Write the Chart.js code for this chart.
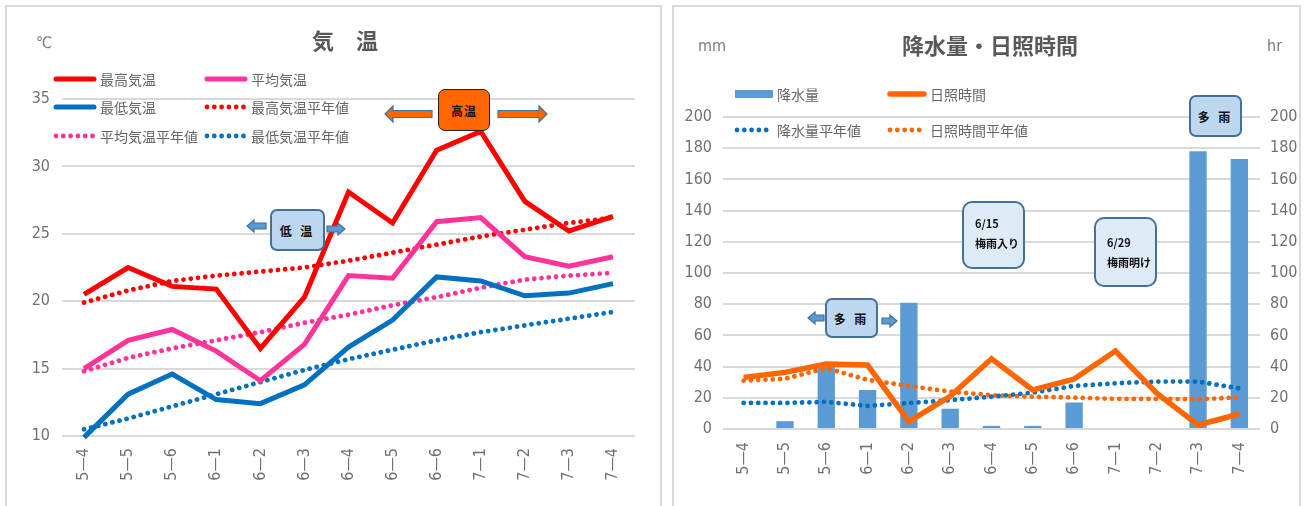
<!DOCTYPE html>
<html lang="ja">
<head>
<meta charset="utf-8">
<title>気温・降水量・日照時間</title>
<script src="https://cdn.jsdelivr.net/npm/chart.js@4.4.1/dist/chart.umd.min.js"></script>
<style>
  html, body { margin: 0; padding: 0; background: #fff; }
  body { width: 1307px; height: 506px; position: relative; overflow: hidden;
         font-family: "Noto Sans CJK JP", sans-serif; }
  .panel { position: absolute; top: 5px; height: 520px; border: 2px solid #d9d9d9;
           box-sizing: border-box; background: #fff; }
  #panelTemp { left: 5px; width: 657px; }
  #panelRain { left: 672px; width: 629px; }
  canvas { position: absolute; top: 0; }
  #tempChart { left: 0; }
  #rainChart { left: 665px; }
  .title { position: absolute; font-weight: bold; color: #595959; font-size: 22px;
           line-height: 1; white-space: nowrap; transform: translateX(-50%); }
  .unit { position: absolute; color: #7a7a7a; font-size: 16px; line-height: 1;
          font-family: "Liberation Sans Narrow", "DejaVu Sans Condensed", sans-serif; }
  .note { position: absolute; box-sizing: border-box; border-radius: 7px;
          display: flex; align-items: center; justify-content: center;
          font-weight: bold; font-size: 12px; color: #111; letter-spacing: 3px; }
  .hot  { background: #ff6600; border: 1.5px solid #222; }
  .blue { background: #bdd7ee; border: 2px solid #41719c; }
  .season { background: #deebf7; border: 2px solid #41719c; border-radius: 10px;
            display: block; font-size: 11px; letter-spacing: 0; font-weight: 600; }
  .season span { position: absolute; white-space: nowrap; }
  #arrows { position: absolute; left: 0; top: 0; }
</style>
</head>
<body>
<div class="panel" id="panelTemp"></div>
<div class="panel" id="panelRain"></div>

<canvas id="tempChart" width="665" height="506"></canvas>
<canvas id="rainChart" width="642" height="506"></canvas>

<div class="title" style="left:345px;top:28px;">気　温</div>
<div class="title" style="left:990px;top:33px;">降水量・日照時間</div>
<div class="unit" style="left:36px;top:35px;">℃</div>
<div class="unit" style="left:698px;top:38px;">mm</div>
<div class="unit" style="left:1267px;top:38px;">hr</div>

<svg id="arrows" width="1307" height="506">
  <g stroke="#41719c" stroke-width="1.2" fill="#ff6600">
    <polygon points="385,114 393,106 393,110.5 432,110.5 432,117.5 393,117.5 393,122"/>
    <polygon points="547,114 539,106 539,110.5 498,110.5 498,117.5 539,117.5 539,122"/>
  </g>
  <g stroke="#41719c" stroke-width="1.2" fill="#5b9bd5">
    <polygon points="247,226 254,220 254,223 266,223 266,229 254,229 254,232"/>
    <polygon points="345,229 338,223 338,226 327,226 327,232 338,232 338,235"/>
    <polygon points="808,318 815,312 815,315 824,315 824,321 815,321 815,324"/>
    <polygon points="897,321 890,315 890,318 882,318 882,324 890,324 890,327"/>
  </g>
</svg>

<div class="note hot"  style="left:438px;top:89px;width:52px;height:42px;letter-spacing:1px;">高温</div>
<div class="note blue" style="left:270px;top:209px;width:55px;height:42px;">低 温</div>
<div class="note blue" style="left:825px;top:298px;width:53px;height:40px;">多 雨</div>
<div class="note blue" style="left:1189px;top:95px;width:53px;height:42px;">多 雨</div>
<div class="note season" style="left:962px;top:201px;width:63px;height:68px;">
  <span style="left:11px;top:12px;">6/15</span>
  <span style="left:11px;top:32px;">梅雨入り</span>
</div>
<div class="note season" style="left:1094px;top:217px;width:63px;height:70px;">
  <span style="left:11px;top:15px;">6/29</span>
  <span style="left:11px;top:35px;">梅雨明け</span>
</div>

<script>
// Half-monthly periods (month—period)
const categories = ['5—4','5—5','5—6','6—1','6—2','6—3','6—4','6—5','6—6','7—1','7—2','7—3','7—4'];

// Temperatures (°C)
const maxTemp       = [20.5, 22.5, 21.1, 20.9, 16.5, 20.3, 28.1, 25.8, 31.2, 32.6, 27.4, 25.2, 26.3];
const avgTemp       = [15.0, 17.1, 17.9, 16.3, 14.1, 16.8, 21.9, 21.7, 25.9, 26.2, 23.3, 22.6, 23.3];
const minTemp       = [ 9.9, 13.1, 14.6, 12.7, 12.4, 13.8, 16.6, 18.6, 21.8, 21.5, 20.4, 20.6, 21.3];
const maxTempNormal = [19.9, 20.8, 21.5, 21.9, 22.2, 22.5, 23.0, 23.6, 24.2, 24.8, 25.3, 25.8, 26.2];
const avgTempNormal = [14.8, 15.8, 16.5, 17.1, 17.7, 18.4, 19.0, 19.7, 20.3, 21.0, 21.6, 21.9, 22.1];
const minTempNormal = [10.5, 11.3, 12.2, 13.1, 14.0, 14.9, 15.7, 16.4, 17.1, 17.7, 18.2, 18.7, 19.2];

// Precipitation (mm) and sunshine duration (hr)
const precip         = [0, 5, 40, 25, 81, 13, 2, 2, 17, 0, 0, 178, 173];
const sunshine       = [33.0, 36.3, 41.7, 41.0, 4.7, 21.0, 45.0, 25.0, 32.0, 50.0, 23.0, 2.6, 9.6];
const precipNormal   = [16.7, 16.7, 17.4, 14.8, 16.7, 18.5, 20.7, 23.3, 27.6, 29.3, 30.4, 30.4, 26.0];
const sunshineNormal = [31.0, 32.2, 39.0, 31.5, 27.6, 24.0, 21.7, 20.7, 20.2, 19.3, 19.3, 19.1, 20.2];

// Axis tick settings
const tempTicks = { min: 10, max: 35, step: 5 };
const rainTicks = { min: 0, max: 200, step: 20 };

const RED = '#ff0000', PINK = '#ff3399', BLUE = '#0070c0', ORANGE = '#ff6600', BAR = '#5b9bd5';
const TICK_FONT = { family: '"Liberation Sans Narrow","DejaVu Sans Condensed",sans-serif', size: 16 };
const TICK_COLOR = '#707070';
const GRID_COLOR = '#d9d9d9';
const DOTS = [0.001, 7.3];

// Two-column legend drawn inside the plot, in dataset order (row-major)
const gridLegend = {
  id: 'gridLegend',
  afterDraw(chart, args, opts) {
    const ctx = chart.ctx;
    ctx.save();
    chart.data.datasets.forEach((ds, i) => {
      const x = opts.cols[i % 2];
      const y = opts.rows[Math.floor(i / 2)];
      const w = opts.swatch;
      const isBar = (ds.type || chart.config.type) === 'bar';
      if (isBar) {
        ctx.fillStyle = ds.backgroundColor;
        ctx.fillRect(x, y - 4, w, 8);
      } else {
        ctx.beginPath();
        ctx.strokeStyle = ds.borderColor;
        ctx.lineWidth = ds.borderWidth;
        ctx.lineCap = 'round';
        ctx.setLineDash(ds.borderDash || []);
        ctx.moveTo(x + 2, y);
        ctx.lineTo(x + w - 2, y);
        ctx.stroke();
        ctx.setLineDash([]);
      }
      ctx.fillStyle = '#666';
      ctx.font = '14px "Noto Sans CJK JP", sans-serif';
      ctx.textBaseline = 'middle';
      ctx.textAlign = 'left';
      ctx.fillText(ds.label, x + w + 4, y + 1);
    });
    ctx.restore();
  }
};

const solid = (label, data, color, extra = {}) => Object.assign({
  label, data, borderColor: color, backgroundColor: color, borderWidth: 5,
  pointRadius: 0, tension: 0, borderJoinStyle: 'miter', order: 0
}, extra);
const dotted = (label, data, color, extra = {}) => Object.assign({
  label, data, borderColor: color, backgroundColor: color, borderWidth: 4.8,
  borderDash: DOTS, borderCapStyle: 'round', pointRadius: 0, tension: 0, order: 1
}, extra);

const xAxis = (height, pad) => ({
  offset: true,
  grid: { display: false, drawTicks: false },
  border: { display: false },
  ticks: { autoSkip: false, minRotation: 90, maxRotation: 90, padding: pad,
           font: TICK_FONT, color: TICK_COLOR },
  afterFit(s) { s.height = height; }
});

new Chart(document.getElementById('tempChart'), {
  type: 'line',
  data: {
    labels: categories,
    datasets: [
      solid('最高気温', maxTemp, RED),
      solid('平均気温', avgTemp, PINK),
      solid('最低気温', minTemp, BLUE),
      dotted('最高気温平年値', maxTempNormal, RED),
      dotted('平均気温平年値', avgTempNormal, PINK),
      dotted('最低気温平年値', minTempNormal, BLUE)
    ]
  },
  options: {
    responsive: false, animation: false, clip: false,
    layout: { padding: { top: 99, right: 30, bottom: 0, left: 0 } },
    plugins: {
      legend: { display: false }, tooltip: { enabled: false },
      gridLegend: { cols: [54, 205], rows: [79, 107, 136], swatch: 42 }
    },
    scales: {
      x: xAxis(70, 12),
      y: {
        min: tempTicks.min, max: tempTicks.max,
        ticks: { stepSize: tempTicks.step, padding: 12, font: TICK_FONT, color: TICK_COLOR },
        grid: { color: GRID_COLOR, lineWidth: 2, drawTicks: false },
        border: { display: false },
        afterFit(s) { s.width = 62; }
      }
    }
  },
  plugins: [gridLegend]
});

new Chart(document.getElementById('rainChart'), {
  type: 'bar',
  data: {
    labels: categories,
    datasets: [
      { type: 'bar', label: '降水量', data: precip, backgroundColor: BAR, yAxisID: 'y',
        barPercentage: 0.42, categoryPercentage: 1, order: 2 },
      solid('日照時間', sunshine, ORANGE, { type: 'line', yAxisID: 'y1', borderWidth: 5.5 }),
      dotted('降水量平年値', precipNormal, BLUE, { type: 'line', yAxisID: 'y' }),
      dotted('日照時間平年値', sunshineNormal, ORANGE, { type: 'line', yAxisID: 'y1' })
    ]
  },
  options: {
    responsive: false, animation: false, clip: false,
    layout: { padding: { top: 117, right: 0, bottom: 0, left: 0 } },
    plugins: {
      legend: { display: false }, tooltip: { enabled: false },
      gridLegend: { cols: [70, 223], rows: [94, 130], swatch: 38 }
    },
    scales: {
      x: xAxis(77, 13),
      y: {
        position: 'left', min: rainTicks.min, max: rainTicks.max,
        ticks: { stepSize: rainTicks.step, padding: 11, font: TICK_FONT, color: TICK_COLOR },
        grid: { color: GRID_COLOR, lineWidth: 2, drawTicks: false },
        border: { display: false },
        afterFit(s) { s.width = 58; }
      },
      y1: {
        position: 'right', min: rainTicks.min, max: rainTicks.max,
        ticks: { stepSize: rainTicks.step, padding: 10, font: TICK_FONT, color: TICK_COLOR },
        grid: { display: false, drawTicks: false },
        border: { display: false },
        afterFit(s) { s.width = 47; }
      }
    }
  },
  plugins: [gridLegend]
});
</script>
</body>
</html>
